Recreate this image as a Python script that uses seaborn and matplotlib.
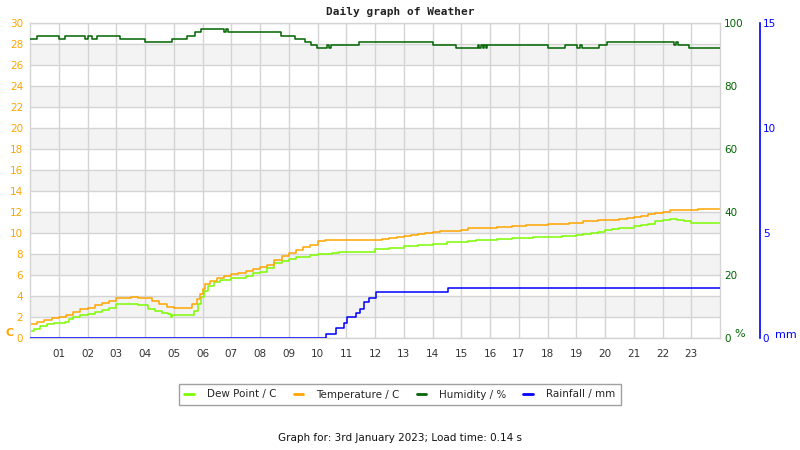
import numpy as np
import matplotlib
matplotlib.use("Agg")
import matplotlib.pyplot as plt
import seaborn as sns
import pandas as pd

# hours since midnight for each reading (step data)
temp_hours = [0.00, 0.25, 0.50, 0.75, 1.00, 1.25, 1.50, 1.75, 2.00, 2.25, 2.50, 2.75,
              3.00, 3.25, 3.50, 3.75, 4.00, 4.25, 4.50, 4.75, 5.00, 5.25, 5.50, 5.65,
              5.80, 5.90, 6.00, 6.10, 6.25, 6.50, 6.75, 7.00, 7.25, 7.50, 7.75, 8.00,
              8.25, 8.50, 8.75, 9.00, 9.25, 9.50, 9.75, 10.00, 10.25, 12.25, 12.50, 12.75,
              13.00, 13.25, 13.50, 13.75, 14.00, 14.25, 15.00, 15.25, 16.25, 16.75, 17.25, 18.00,
              18.75, 19.25, 19.75, 20.50, 20.75, 21.00, 21.25, 21.50, 21.75, 22.00, 22.25, 23.25,
              24.00]
temperature = [1.3, 1.5, 1.7, 1.9, 2.0, 2.2, 2.5, 2.8, 2.9, 3.1, 3.3, 3.5,
               3.8, 3.8, 3.9, 3.8, 3.8, 3.5, 3.2, 3.0, 2.9, 2.9, 2.9, 3.2,
               3.7, 4.2, 4.7, 5.1, 5.4, 5.7, 5.9, 6.1, 6.2, 6.4, 6.6, 6.8,
               7.0, 7.4, 7.8, 8.1, 8.4, 8.7, 8.9, 9.2, 9.3, 9.4, 9.5, 9.6,
               9.7, 9.8, 9.9, 10.0, 10.1, 10.2, 10.3, 10.5, 10.6, 10.7, 10.8, 10.9,
               11.0, 11.1, 11.2, 11.3, 11.4, 11.5, 11.6, 11.8, 11.9, 12.0, 12.2, 12.3,
               12.3]

dew_hours = [0.00, 0.15, 0.35, 0.60, 0.85, 1.20, 1.35, 1.50, 1.75, 2.00, 2.25, 2.50,
             2.75, 3.00, 3.75, 4.10, 4.35, 4.60, 4.80, 4.90, 4.95, 5.55, 5.70, 5.85,
             5.95, 6.05, 6.20, 6.40, 6.60, 7.00, 7.50, 7.75, 8.00, 8.25, 8.50, 8.75,
             9.00, 9.25, 9.75, 10.00, 10.50, 10.75, 12.00, 12.50, 13.00, 13.50, 14.00, 14.50,
             15.25, 15.50, 16.25, 16.75, 17.50, 18.50, 19.00, 19.25, 19.50, 19.75, 20.00, 20.25,
             20.50, 21.00, 21.25, 21.50, 21.75, 22.00, 22.25, 22.50, 22.75, 23.00, 24.00]
dew_point = [0.7, 0.9, 1.1, 1.3, 1.4, 1.5, 1.8, 2.0, 2.2, 2.3, 2.5, 2.7,
             2.9, 3.2, 3.1, 2.8, 2.6, 2.4, 2.3, 2.0, 2.2, 2.2, 2.6, 3.2,
             3.9, 4.5, 5.0, 5.3, 5.5, 5.7, 5.9, 6.2, 6.3, 6.7, 7.1, 7.3,
             7.5, 7.7, 7.9, 8.0, 8.1, 8.2, 8.5, 8.6, 8.8, 8.9, 9.0, 9.1,
             9.2, 9.3, 9.4, 9.5, 9.6, 9.7, 9.8, 9.9, 10.0, 10.1, 10.3, 10.4,
             10.5, 10.7, 10.8, 10.9, 11.1, 11.2, 11.3, 11.2, 11.1, 11.0, 11.0]

hum_hours = [0.00, 0.23, 1.02, 1.20, 1.90, 2.03, 2.14, 2.32, 3.13, 4.00, 4.94, 5.46,
             5.73, 5.96, 6.75, 6.80, 6.90, 8.72, 9.20, 9.56, 9.79, 9.97, 10.34, 10.40,
             10.48, 11.44, 14.00, 14.80, 15.57, 15.62, 15.68, 15.74, 15.80, 15.86, 15.90, 18.00,
             18.60, 19.04, 19.12, 19.20, 19.80, 20.08, 22.40, 22.48, 22.55, 22.93, 24.00]
humidity = [95, 96, 95, 96, 95, 96, 95, 96, 95, 94, 95, 96,
            97, 98, 97, 98, 97, 96, 95, 94, 93, 92, 93, 92,
            93, 94, 93, 92, 93, 92, 93, 92, 93, 92, 93, 92,
            93, 92, 93, 92, 93, 94, 93, 94, 93, 92, 92]

rain_hours = [0.00, 10.30, 10.63, 10.91, 11.01, 11.33, 11.48, 11.63, 11.79, 12.02, 14.55, 24.00]
rainfall = [0.0, 0.2, 0.5, 0.7, 1.0, 1.2, 1.4, 1.7, 1.9, 2.2, 2.4, 2.4]

hour_labels = ["%02d" % h for h in range(1, 24)]

c_temp = "#FFA500"
c_dew = "#7CFC00"
c_hum = "#006400"
c_rain = "#0000FF"

sns.set_theme(style="white")
plt.rcParams["font.family"] = ["DejaVu Sans"]

fig = plt.figure(figsize=(8, 4.5), dpi=100)
ax = fig.add_axes([30 / 800, 1 - 338 / 450, 690 / 800, 315 / 450])

# alternating bands + grid
for lo in range(2, 30, 4):
    ax.axhspan(lo, lo + 2, color="#f3f3f3", zorder=0, lw=0)
ax.set_xlim(0, 24)
ax.set_ylim(0, 30)
ax.set_yticks(range(0, 31, 2))
ax.set_xticks(range(1, 24))
ax.set_xticklabels(hour_labels)
ax.grid(True, color="#d4d4d4", lw=1, zorder=1)
ax.set_axisbelow(True)
for s in ax.spines.values():
    s.set_color("#d4d4d4")
    s.set_linewidth(1)
ax.tick_params(axis="y", length=0, pad=5, labelsize=7.5, labelcolor=c_temp)
ax.tick_params(axis="x", length=0, pad=8, labelsize=7.5, labelcolor="#333333")

lw = 1.1
sns.lineplot(x=dew_hours, y=dew_point, ax=ax, color=c_dew, lw=lw,
             drawstyle="steps-post", label="Dew Point / C", legend=False)
sns.lineplot(x=temp_hours, y=temperature, ax=ax, color=c_temp, lw=lw,
             drawstyle="steps-post", label="Temperature / C", legend=False)
ax.set_xlabel("")
ax.set_ylabel("")

ax_h = ax.twinx()
sns.lineplot(x=hum_hours, y=humidity, ax=ax_h, color=c_hum, lw=lw,
             drawstyle="steps-post", label="Humidity / %", legend=False)
ax_h.set_ylim(0, 100)
ax_h.set_yticks(range(0, 101, 20))
ax_h.tick_params(axis="y", length=0, pad=3, labelsize=7.5, labelcolor=c_hum)
ax_h.set_ylabel("")
ax_h.grid(False)
for s in ax_h.spines.values():
    s.set_visible(False)

ax_r = ax.twinx()
sns.lineplot(x=rain_hours, y=rainfall, ax=ax_r, color=c_rain, lw=lw,
             drawstyle="steps-post", label="Rainfall / mm", legend=False)
ax_r.set_ylim(0, 15)
ax_r.set_yticks([0, 5, 10, 15])
ax_r.tick_params(axis="y", length=0, pad=2, labelsize=7.5, labelcolor=c_rain)
ax_r.set_ylabel("")
ax_r.grid(False)
for k, s in ax_r.spines.items():
    s.set_visible(k == "right")
ax_r.spines["right"].set_position(("axes", 40 / 690 + 1))
ax_r.spines["right"].set_color(c_rain)
ax_r.spines["right"].set_linewidth(1.2)

fig.text(0.5, 1 - 12 / 450, "Daily graph of Weather", ha="center", va="center",
         family="DejaVu Sans Mono", fontweight="bold", fontsize=8, color="#222222")
fig.text(5 / 800, 1 - 333 / 450, "C", ha="left", va="center", fontsize=8,
         fontweight="bold", color=c_temp)
fig.text(734 / 800, 1 - 334 / 450, "%", ha="left", va="center", fontsize=8, color=c_hum)
fig.text(775 / 800, 1 - 335 / 450, "mm", ha="left", va="center", fontsize=8, color=c_rain)

handles, labels = [], []
for a in (ax, ax_h, ax_r):
    h, l = a.get_legend_handles_labels()
    handles += h
    labels += l
leg = fig.legend(handles, labels, loc="center", bbox_to_anchor=(0.5, 1 - 394.5 / 450),
                 ncol=4, fontsize=7.5, frameon=True, fancybox=False, handlelength=0.9,
                 columnspacing=1.6, handletextpad=1.3, borderpad=0.55)
leg.get_frame().set_edgecolor("#888888")
leg.get_frame().set_linewidth(1)
for line in leg.get_lines():
    line.set_linewidth(2)

fig.text(0.5, 1 - 438 / 450, "Graph for: 3rd January 2023; Load time: 0.14 s",
         ha="center", va="center", fontsize=7.5, color="#111111")

fig.savefig("out.png", dpi=100)
